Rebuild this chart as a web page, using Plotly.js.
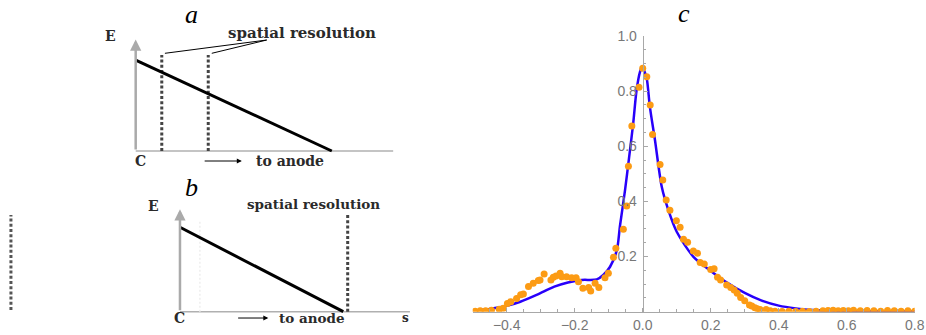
<!DOCTYPE html>
<html><head><meta charset="utf-8">
<script src="https://cdn.plot.ly/plotly-3.0.1.min.js"></script>
<style>html,body{margin:0;padding:0;background:#fff}#chart{width:926px;height:335px}</style>
</head><body><div id="chart"></div>
<script>
// ---- Panel c: measured points ----
const dataX = [-0.493,-0.478,-0.462,-0.445,-0.422,-0.410,-0.398,-0.388,-0.371,-0.359,-0.351,-0.336,-0.322,-0.307,-0.302,-0.290,-0.270,-0.263,-0.255,-0.243,-0.238,-0.224,-0.209,-0.196,-0.189,-0.176,-0.159,-0.153,-0.140,-0.129,-0.111,-0.101,-0.086,-0.079,-0.057,-0.047,-0.042,-0.032,-0.011,0.000,0.012,0.022,0.029,0.051,0.059,0.069,0.080,0.099,0.110,0.120,0.132,0.149,0.161,0.169,0.181,0.200,0.210,0.220,0.229,0.247,0.259,0.269,0.278,0.288,0.300,0.314,0.321,0.330,0.337,0.345,0.363,0.375,0.389,0.41,0.43,0.45,0.47,0.49,0.51,0.53,0.545,0.56,0.575,0.59,0.605,0.62,0.64,0.66,0.68,0.70,0.72,0.74,0.76,0.78,0.80];
const dataY = [0.002,0.003,0.003,0.005,0.009,0.012,0.030,0.036,0.048,0.061,0.064,0.091,0.103,0.113,0.115,0.137,0.115,0.125,0.129,0.139,0.127,0.127,0.123,0.123,0.109,0.085,0.088,0.075,0.103,0.088,0.123,0.139,0.197,0.230,0.299,0.383,0.528,0.674,0.814,0.883,0.852,0.750,0.643,0.534,0.478,0.405,0.368,0.330,0.306,0.263,0.252,0.220,0.212,0.178,0.173,0.153,0.156,0.125,0.115,0.097,0.088,0.079,0.067,0.051,0.040,0.024,0.021,0.014,0.011,0.008,0.008,0.003,0.002,0.001,0.002,0.001,0.002,0.001,0.002,0.003,0.004,0.005,0.003,0.004,0.003,0.005,0.003,0.004,0.003,0.002,0.004,0.003,0.002,0.003,0.002];
// ---- Panel c: fitted curve ----
const fitX = [-0.476,-0.44,-0.41,-0.36,-0.31,-0.26,-0.22,-0.18,-0.135,-0.116,-0.096,-0.076,-0.067,-0.052,-0.040,-0.028,-0.018,-0.008,-0.002,0.005,0.012,0.021,0.036,0.056,0.075,0.10,0.15,0.20,0.25,0.30,0.35,0.40,0.45,0.50,0.55,0.60,0.65,0.70,0.80];
const fitY = [0.006,0.012,0.018,0.036,0.062,0.091,0.106,0.115,0.117,0.133,0.163,0.224,0.31,0.441,0.56,0.683,0.804,0.870,0.888,0.872,0.845,0.744,0.623,0.453,0.370,0.29,0.198,0.148,0.104,0.068,0.040,0.022,0.012,0.006,0.004,0.003,0.002,0.0015,0.001];
const xTickVals = [-0.4,-0.2,0.0,0.2,0.4,0.6,0.8];
const yTickVals = [0.2,0.4,0.6,0.8,1.0];

// ---- Panels a and b: schematic (units: field line from (0,1) to (1,0)) ----
const fieldX = [0, 1];
const fieldY = [1, 0];
const aBaseX = [0, 1.313], aBaseY = [0, 0];
const aArrowTop = 1.227;
const aDotX = [0.133, 0.370], aDotTop = 1.055;
const aLeader1X = [0.149, 0.668], aLeader1Y = [1.074, 1.22];
const aLeader2X = [0.388, 0.668], aLeader2Y = [1.074, 1.22];
const bBaseX = [0, 1.408], bBaseY = [0, 0];
const bArrowTop = 1.213;
const bDotX = 1.027, bDotTop = 1.146;
const bFaintX = 0.122, bFaintTop = 1.087;
const bLeftX = -1.035, bLeftY = [0.02, 1.146];

const ser = 'DejaVu Serif, serif';
const txt = '#2a2a2a';
const dotDash = '3px,2.2px';

const traces = [
  // panel a
  {x: aBaseX, y: aBaseY, xaxis:'x', yaxis:'y', mode:'lines', line:{color:'#b0b0b0', width:1.5}},
  {x: [aDotX[0], aDotX[0]], y: [0, aDotTop], xaxis:'x', yaxis:'y', mode:'lines', line:{color:'#444', width:3, dash:dotDash}},
  {x: [aDotX[1], aDotX[1]], y: [0, aDotTop], xaxis:'x', yaxis:'y', mode:'lines', line:{color:'#444', width:3, dash:dotDash}},
  {x: fieldX, y: fieldY, xaxis:'x', yaxis:'y', mode:'lines', line:{color:'#000', width:3}},
  {x: aLeader1X, y: aLeader1Y, xaxis:'x', yaxis:'y', mode:'lines', line:{color:'#000', width:1}},
  {x: aLeader2X, y: aLeader2Y, xaxis:'x', yaxis:'y', mode:'lines', line:{color:'#000', width:1}},
  // panel b
  {x: bBaseX, y: bBaseY, xaxis:'x2', yaxis:'y2', mode:'lines', line:{color:'#b0b0b0', width:1.5}},
  {x: [bFaintX, bFaintX], y: [0, bFaintTop], xaxis:'x2', yaxis:'y2', mode:'lines', line:{color:'#eeeeee', width:1.5, dash:'2px,2px'}},
  {x: [bLeftX, bLeftX], y: bLeftY, xaxis:'x2', yaxis:'y2', mode:'lines', line:{color:'#555', width:3, dash:dotDash}},
  {x: [bDotX, bDotX], y: [0, bDotTop], xaxis:'x2', yaxis:'y2', mode:'lines', line:{color:'#444', width:3, dash:dotDash}},
  {x: fieldX, y: fieldY, xaxis:'x2', yaxis:'y2', mode:'lines', line:{color:'#000', width:3}},
  // panel c
  {x: fitX, y: fitY, xaxis:'x3', yaxis:'y3', mode:'lines', line:{color:'rgb(40,0,250)', width:2.5, shape:'spline', smoothing:0.8}},
  {x: dataX, y: dataY, xaxis:'x3', yaxis:'y3', mode:'markers', marker:{color:'rgb(252,155,20)', size:7}}
];

function label(text, x, y, xr, yr, size, extra) {
  return Object.assign({text: text, x: x, y: y, xref: xr, yref: yr, showarrow: false,
    xanchor: 'center', yanchor: 'middle',
    font: {family: ser, size: size, color: txt, weight: 'bold'}}, extra || {});
}
function arrow(x, y, ax, ay, xr, yr, color, w, head, size) {
  return {x: x, y: y, ax: ax, ay: ay, xref: xr, yref: yr, axref: xr, ayref: yr, text: '',
    showarrow: true, arrowhead: head, arrowsize: size, arrowwidth: w, arrowcolor: color, standoff: 0, startstandoff: 0};
}
const titleFont = {family: 'Liberation Serif, serif', size: 26, color: '#000', style: 'italic'};
function title(t, x, y) {
  return {text: t, x: x, y: y, xref: 'paper', yref: 'paper', showarrow: false,
    xanchor: 'center', yanchor: 'middle', font: titleFont};
}

const annotations = [
  title('a', 0.207, 0.956),
  title('b', 0.207, 0.439),
  title('c', 0.7387, 0.959),
  // panel a
  arrow(0, aArrowTop, 0, 0, 'x', 'y', '#aaaaaa', 2.5, 2, 0.9),
  arrow(0.541, -0.11, 0.344, -0.11, 'x', 'y', '#000', 1, 2, 1),
  label('E', -0.131, 1.264, 'x', 'y', 14),
  label('C', 0.022, -0.11, 'x', 'y', 14),
  label('to anode', 0.786, -0.11, 'x', 'y', 14),
  label('spatial resolution', 0.847, 1.293, 'x', 'y', 15),
  // panel b
  arrow(0, bArrowTop, 0, 0, 'x2', 'y2', '#aaaaaa', 2.5, 2, 0.9),
  arrow(0.541, -0.075, 0.347, -0.075, 'x2', 'y2', '#000', 1, 2, 1),
  label('E', -0.164, 1.252, 'x2', 'y2', 14),
  label('C', 0.0, -0.078, 'x2', 'y2', 14),
  label('to anode', 0.806, -0.078, 'x2', 'y2', 13.5),
  label('spatial resolution', 0.816, 1.272, 'x2', 'y2', 13.5),
  label('s', 1.378, -0.078, 'x2', 'y2', 12)
];

const axisGray = '#a8a8a8';
const tickFont = {family: 'Liberation Sans, Arial, sans-serif', size: 14, color: '#777'};

const layout = {
  width: 926, height: 335, autosize: false,
  margin: {l: 0, r: 0, t: 0, b: 0},
  paper_bgcolor: '#fff', plot_bgcolor: 'rgba(0,0,0,0)',
  showlegend: false,
  xaxis: {domain: [0.108, 0.432], range: [-0.182, 1.348], visible: false, anchor: 'y'},
  yaxis: {domain: [0.4925, 0.9104], range: [-0.209, 1.330], visible: false, anchor: 'x'},
  xaxis2: {domain: [0, 0.4536], range: [-1.102, 1.470], visible: false, anchor: 'y2'},
  yaxis2: {domain: [0.0149, 0.4627], range: [-0.217, 1.560], visible: false, anchor: 'x2'},
  xaxis3: {domain: [0.5105, 0.9878], range: [-0.5, 0.8], anchor: 'y3',
    showgrid: false, zeroline: false, showline: true, linecolor: axisGray, linewidth: 1.2,
    tickmode: 'array', tickvals: xTickVals, tickformat: '.1f', ticks: 'inside', ticklen: 4,
    tickcolor: axisGray, tickwidth: 1, tickfont: tickFont, automargin: false,
    minor: {tickmode: 'linear', tick0: 0, dtick: 0.05, ticks: 'inside', ticklen: 2.5, tickcolor: axisGray, showgrid: false}},
  yaxis3: {domain: [0.0696, 0.8925], range: [0, 1.0], anchor: 'free', position: 0.694, side: 'left',
    showgrid: false, zeroline: false, showline: true, linecolor: axisGray, linewidth: 1.2,
    tickmode: 'array', tickvals: yTickVals, tickformat: '.1f', ticks: 'inside', ticklen: 4,
    tickcolor: axisGray, tickwidth: 1, tickfont: tickFont, automargin: false, ticklabelstandoff: 3,
    minor: {tickmode: 'linear', tick0: 0, dtick: 0.05, ticks: 'inside', ticklen: 2.5, tickcolor: axisGray, showgrid: false}},
  annotations: annotations
};

Plotly.newPlot('chart', traces, layout, {displayModeBar: false, staticPlot: true});
</script></body></html>
